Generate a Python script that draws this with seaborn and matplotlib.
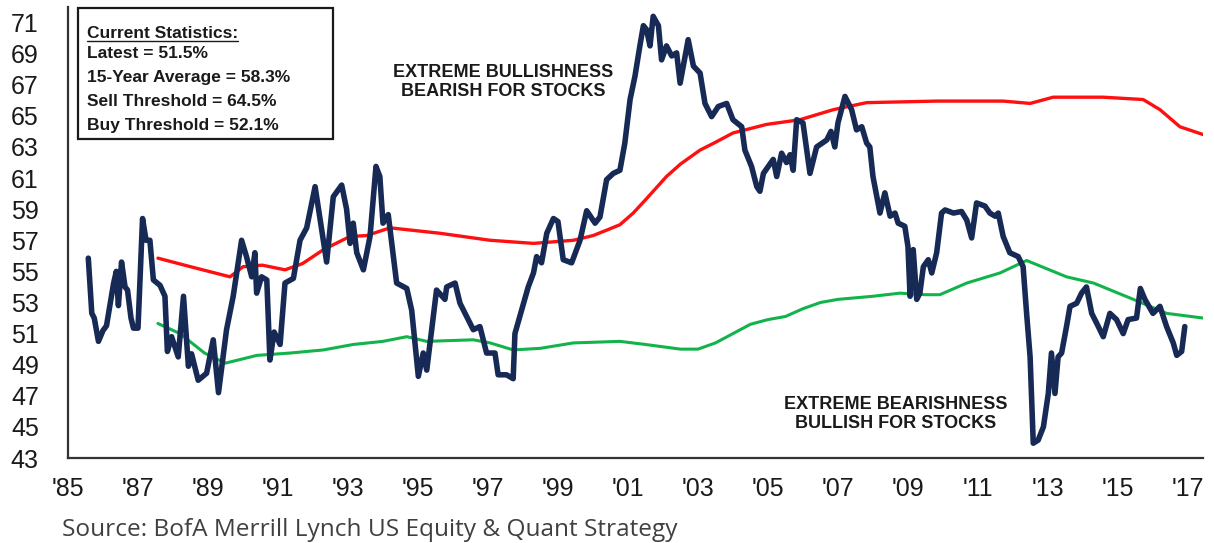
import numpy as np
import pandas as pd
import matplotlib
matplotlib.use("Agg")
import matplotlib.pyplot as plt
import seaborn as sns
from matplotlib.patches import Rectangle
from matplotlib.lines import Line2D

# ---------------- data ----------------
sent_year = [
    1985.58, 1985.68, 1985.75, 1985.87, 1986.0, 1986.1, 1986.3, 1986.38, 1986.44, 1986.53,
    1986.63, 1986.7, 1986.8, 1986.87, 1987.0, 1987.13, 1987.23, 1987.34, 1987.44, 1987.63,
    1987.77, 1987.84, 1987.96, 1988.15, 1988.3, 1988.44, 1988.53, 1988.72, 1988.96, 1989.15,
    1989.3, 1989.53, 1989.72, 1989.96, 1990.1, 1990.25, 1990.34, 1990.39, 1990.53, 1990.68,
    1990.77, 1990.89, 1991.06, 1991.2, 1991.44, 1991.63, 1991.82, 1992.06, 1992.39, 1992.58,
    1992.82, 1992.96, 1993.06, 1993.15, 1993.25, 1993.44, 1993.63, 1993.8, 1993.91, 1994.0,
    1994.15, 1994.39, 1994.68, 1994.82, 1995.01, 1995.15, 1995.25, 1995.53, 1995.77, 1995.82,
    1996.06, 1996.2, 1996.58, 1996.77, 1996.96, 1997.2, 1997.29, 1997.53, 1997.72, 1997.77,
    1997.96, 1998.15, 1998.3, 1998.39, 1998.53, 1998.68, 1998.87, 1999.0, 1999.15, 1999.39,
    1999.63, 1999.82, 2000.06, 2000.2, 2000.39, 2000.58, 2000.77, 2000.91, 2001.06, 2001.2,
    2001.34, 2001.44, 2001.53, 2001.63, 2001.72, 2001.87, 2001.96, 2002.1, 2002.25, 2002.39,
    2002.49, 2002.72, 2002.87, 2003.06, 2003.2, 2003.39, 2003.58, 2003.82, 2004.0, 2004.25,
    2004.34, 2004.53, 2004.68, 2004.77, 2004.87, 2005.15, 2005.25, 2005.39, 2005.53, 2005.63,
    2005.72, 2005.82, 2006.0, 2006.2, 2006.39, 2006.68, 2006.8, 2006.91, 2007.0, 2007.2,
    2007.39, 2007.53, 2007.68, 2007.82, 2007.91, 2008.0, 2008.2, 2008.34, 2008.49, 2008.63,
    2008.72, 2008.91, 2009.0, 2009.06, 2009.15, 2009.25, 2009.34, 2009.44, 2009.58, 2009.68,
    2009.82, 2009.96, 2010.06, 2010.3, 2010.53, 2010.68, 2010.82, 2010.96, 2011.2, 2011.34,
    2011.49, 2011.58, 2011.72, 2011.91, 2012.15, 2012.29, 2012.39, 2012.49, 2012.58, 2012.72,
    2012.87, 2013.01, 2013.1, 2013.2, 2013.29, 2013.39, 2013.53, 2013.63, 2013.82, 2013.96,
    2014.1, 2014.25, 2014.44, 2014.58, 2014.77, 2014.96, 2015.15, 2015.29, 2015.53, 2015.64,
    2015.77, 2016.0, 2016.2, 2016.39, 2016.58, 2016.68, 2016.82, 2016.91,
]
sent_value = [
    55.85, 52.3, 52.0, 50.5, 51.2, 51.5, 54.2, 55.0, 52.8, 55.6,
    54.0, 53.8, 52.0, 51.35, 51.35, 58.4, 57.0, 57.0, 54.45, 54.1,
    53.4, 49.85, 50.8, 49.5, 53.4, 48.9, 49.7, 48.0, 48.45, 50.6,
    47.2, 51.25, 53.4, 57.0, 55.95, 54.65, 56.2, 53.6, 54.65, 54.45,
    49.3, 51.1, 50.3, 54.25, 54.55, 57.0, 57.8, 60.45, 55.6, 59.8,
    60.55, 59.0, 56.8, 58.1, 56.2, 55.1, 57.25, 61.75, 61.1, 58.1,
    58.65, 54.25, 53.9, 52.5, 48.25, 49.75, 48.65, 53.8, 53.2, 54.0,
    54.25, 52.95, 51.25, 51.45, 49.75, 49.75, 48.35, 48.35, 48.1, 51.0,
    52.5, 54.0, 54.9, 55.95, 55.55, 57.45, 58.4, 58.2, 55.75, 55.55,
    57.0, 58.9, 58.1, 58.5, 60.9, 61.3, 61.5, 63.25, 66.05, 67.55,
    69.5, 70.8, 70.55, 69.5, 71.4, 70.8, 68.6, 69.5, 68.85, 69.05,
    67.1, 69.9, 68.2, 67.75, 65.8, 64.95, 65.6, 65.8, 64.75, 64.3,
    62.8, 61.75, 60.45, 60.15, 61.3, 62.2, 61.1, 62.6, 62.0, 62.5,
    61.5, 64.75, 64.55, 61.3, 63.0, 63.45, 64.0, 63.0, 64.55, 66.25,
    65.4, 64.1, 64.3, 63.25, 63.0, 61.1, 58.75, 60.05, 58.55, 58.75,
    58.1, 57.9, 56.6, 53.4, 56.4, 53.2, 53.6, 55.3, 55.75, 54.9,
    56.2, 58.75, 58.95, 58.75, 58.85, 58.3, 57.15, 59.4, 59.2, 58.75,
    58.55, 58.75, 57.25, 56.2, 55.95, 55.3, 52.3, 49.5, 43.95, 44.15,
    45.0, 47.15, 49.75, 47.15, 49.5, 49.75, 51.45, 52.75, 52.95, 53.6,
    54.0, 52.3, 51.45, 50.8, 52.3, 51.9, 51.0, 51.9, 52.0, 53.9,
    53.2, 52.3, 52.75, 51.45, 50.4, 49.6, 49.85, 51.45,
]

sell_year = [1987.57, 1988.5, 1989.63, 1990.0, 1990.55, 1991.2, 1991.7, 1992.3, 1993.06,
             1993.53, 1994.2, 1995.63, 1997.06, 1998.3, 1999.44, 2000.0, 2000.39, 2000.77,
             2001.15, 2001.5, 2002.1, 2002.5, 2003.06, 2003.5, 2004.0, 2004.96, 2005.91,
             2006.87, 2007.82, 2009.82, 2011.72, 2012.49, 2013.15, 2014.58, 2015.72,
             2016.2, 2016.77, 2017.43]
sell_value = [55.85, 55.3, 54.65, 55.3, 55.4, 55.1, 55.5, 56.4, 57.25,
              57.3, 57.8, 57.45, 57.0, 56.8, 57.0, 57.3, 57.65, 58.0,
              58.75, 59.6, 61.1, 61.9, 62.8, 63.3, 63.9, 64.45, 64.75,
              65.4, 65.85, 65.95, 65.95, 65.8, 66.2, 66.2, 66.05,
              65.4, 64.3, 63.8]

buy_year = [1987.57, 1988.2, 1988.9, 1989.5, 1990.4, 1991.35, 1992.3, 1993.15, 1994.0,
            1994.68, 1995.25, 1996.58, 1997.06, 1997.72, 1998.49, 1999.44, 2000.77,
            2001.5, 2002.5, 2003.0, 2003.5, 2004.0, 2004.5, 2005.0, 2005.5, 2006.0,
            2006.5, 2007.0, 2008.0, 2008.77, 2009.5, 2009.91, 2010.68, 2011.63,
            2012.39, 2013.53, 2014.3, 2015.44, 2016.39, 2017.43]
buy_value = [51.65, 51.0, 49.75, 49.1, 49.6, 49.75, 49.95, 50.3, 50.5,
             50.8, 50.5, 50.6, 50.4, 49.95, 50.05, 50.4, 50.5,
             50.3, 50.0, 50.0, 50.4, 51.0, 51.6, 51.9, 52.1, 52.6,
             53.0, 53.2, 53.4, 53.6, 53.5, 53.5, 54.25, 54.9,
             55.7, 54.65, 54.25, 53.2, 52.3, 52.0]

y_ticks = list(range(43, 72, 2))
x_ticks = list(range(1985, 2018, 2))
x_labels = ["'85", "'87", "'89", "'91", "'93", "'95", "'97", "'99", "'01", "'03",
            "'05", "'07", "'09", "'11", "'13", "'15", "'17"]

stats_title = "Current Statistics:"
stats_lines = ["Latest = 51.5%", "15-Year Average = 58.3%",
               "Sell Threshold = 64.5%", "Buy Threshold = 52.1%"]
note_top = "EXTREME BULLISHNESS\nBEARISH FOR STOCKS"
note_bottom = "EXTREME BEARISHNESS\nBULLISH FOR STOCKS"
source = "Source: BofA Merrill Lynch US Equity & Quant Strategy"

# ---------------- style ----------------
sns.set_style("white")
plt.rcParams["font.family"] = ["Liberation Sans", "DejaVu Sans"]

W, H = 1214, 543
fig = plt.figure(figsize=(W / 100, H / 100), dpi=100)
ax = fig.add_axes([68 / W, 1 - 458 / H, (1203 - 68) / W, (458 - 7) / H])

df_sent = pd.DataFrame({"year": sent_year, "value": sent_value})
df_sell = pd.DataFrame({"year": sell_year, "value": sell_value})
df_buy = pd.DataFrame({"year": buy_year, "value": buy_value})

sns.lineplot(data=df_sell, x="year", y="value", ax=ax, color="#ff1010", lw=2.4,
             sort=False, estimator=None)
sns.lineplot(data=df_buy, x="year", y="value", ax=ax, color="#12b34a", lw=2.2,
             sort=False, estimator=None)
sns.lineplot(data=df_sent, x="year", y="value", ax=ax, color="#172a55", lw=4.0,
             sort=False, estimator=None, solid_joinstyle="round")

ax.set_xlim(1985, 2017.43)
ax.set_ylim(43, 72)
ax.set_xticks(x_ticks)
ax.set_xticklabels(x_labels)
ax.set_yticks(y_ticks)
ax.set_xlabel("")
ax.set_ylabel("")
for s in ["top", "right"]:
    ax.spines[s].set_visible(False)
for s in ["left", "bottom"]:
    ax.spines[s].set_color("#333333")
    ax.spines[s].set_linewidth(1.6)
ax.tick_params(axis="y", direction="out", length=7, width=1.4, color="#333333",
               labelsize=18, pad=14, labelcolor="#1a1a1a")
ax.tick_params(axis="x", direction="inout", length=10, width=1.4, color="#333333",
               labelsize=18, pad=9, labelcolor="#1a1a1a")
ax.grid(False)

# statistics box
fig.patches.append(Rectangle((78 / W, 1 - 139 / H), (333 - 78) / W, (139 - 8) / H,
                             transform=fig.transFigure, fill=False, ec="#1a1a1a",
                             lw=1.6, zorder=5))
t = fig.text(87 / W, 1 - 33 / H, stats_title, fontsize=12.5, fontweight="bold",
             color="#1a1a1a", va="center", ha="left")
for i, line in enumerate(stats_lines):
    fig.text(87 / W, 1 - (54 + i * 23.7) / H, line, fontsize=12.5, fontweight="bold",
             color="#1a1a1a", va="center", ha="left")
fig.canvas.draw()
bb = t.get_window_extent(fig.canvas.get_renderer())
fig.lines.append(Line2D([bb.x0 / W, bb.x1 / W], [1 - 41 / H, 1 - 41 / H],
                        transform=fig.transFigure, color="#1a1a1a", lw=1.0))

fig.text(503 / W, 1 - 82 / H, note_top, fontsize=13, fontweight="bold",
         color="#1a1a1a", ha="center", va="center", linespacing=1.15)
fig.text(896 / W, 1 - 414 / H, note_bottom, fontsize=13, fontweight="bold",
         color="#1a1a1a", ha="center", va="center", linespacing=1.15)

fig.text(62 / W, 1 - 530 / H, source, fontsize=17.6, color="#404040",
         ha="left", va="center", family=["Open Sans", "DejaVu Sans"])

fig.savefig("out.png", dpi=100)
